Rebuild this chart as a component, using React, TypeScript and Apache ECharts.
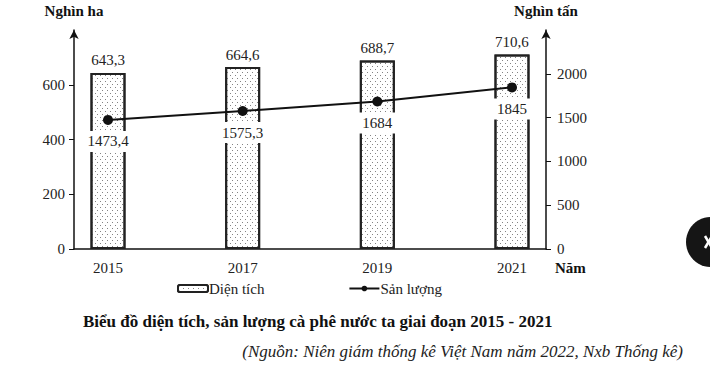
import React, { useEffect, useRef } from "react";
import * as echarts from "echarts";

const years = [2015, 2017, 2019, 2021];
const area = [643.3, 664.6, 688.7, 710.6];
const output = [1473.4, 1575.3, 1684, 1845];
const leftTicks = [0, 200, 400, 600];
const rightTicks = [0, 500, 1000, 1500, 2000];

const SERIF = "'Liberation Serif', 'Times New Roman', serif";
const fmt = (v: number) => String(v).replace(".", ",");

export default function App() {
  const ref = useRef<HTMLDivElement>(null);
  useEffect(() => {
    document.body.style.margin = "0";
    const chart = echarts.init(ref.current!, null, { renderer: "svg" });
    chart.setOption({
      animation: false,
      backgroundColor: "#fff",
      aria: { enabled: true, decal: { show: true } },
      textStyle: { fontFamily: SERIF },
      title: [
        {
          text: "Biểu đồ diện tích, sản lượng cà phê nước ta giai đoạn 2015 - 2021",
          left: 78,
          top: 308,
          textStyle: { fontFamily: SERIF, fontSize: 17, fontWeight: "bold", color: "#111" },
        },
        {
          text: "(Nguồn: Niên giám thống kê Việt Nam năm 2022, Nxb Thống kê)",
          right: 22,
          top: 338,
          textStyle: { fontFamily: SERIF, fontSize: 17, fontWeight: "normal", fontStyle: "italic", color: "#222" },
        },
      ],
      legend: {
        left: 177,
        top: 281,
        padding: 0,
        itemWidth: 30,
        itemHeight: 7,
        itemGap: 84,
        textStyle: { fontFamily: SERIF, fontSize: 15, color: "#222", padding: [0, 0, 0, -4] },
        data: ["Diện tích", "Sản lượng"],
      },
      grid: { left: 74, right: 164, top: 30, bottom: 117, containLabel: false, outerBoundsMode: "none" },
      xAxis: {
        type: "value",
        min: 2014.495,
        max: 2021.505,
        axisLine: { lineStyle: { color: "#111", width: 1.5 } },
        axisTick: { show: false },
        splitLine: { show: false },
        axisLabel: {
          customValues: years,
          margin: 11,
          fontSize: 15,
          color: "#222",
          fontFamily: SERIF,
          formatter: (v: number) => String(v),
        },
      },
      yAxis: [
        {
          type: "value",
          min: 0,
          max: 800,
          interval: 200,
          position: "left",
          name: "Nghìn ha",
          nameLocation: "end",
          nameGap: 12,
          nameTextStyle: { fontFamily: SERIF, fontSize: 15, fontWeight: "bold", color: "#111" },
          axisLine: { show: true, symbol: ["none", "arrow"], symbolSize: [7, 9], lineStyle: { color: "#111", width: 1.5 } },
          axisTick: { show: true, customValues: leftTicks, length: 5, lineStyle: { color: "#111" } },
          splitLine: { show: false },
          axisLabel: {
            customValues: leftTicks,
            margin: 9,
            fontSize: 15,
            color: "#222",
            fontFamily: SERIF,
            formatter: (v: number) => String(v),
          },
        },
        {
          type: "value",
          min: 0,
          max: 2500,
          interval: 500,
          position: "right",
          name: "Nghìn tấn",
          nameLocation: "end",
          nameGap: 12,
          nameTextStyle: { fontFamily: SERIF, fontSize: 15, fontWeight: "bold", color: "#111" },
          axisLine: { show: true, symbol: ["none", "arrow"], symbolSize: [7, 9], lineStyle: { color: "#111", width: 1.5 } },
          axisTick: { show: true, customValues: rightTicks, length: 5, lineStyle: { color: "#111" } },
          splitLine: { show: false },
          axisLabel: {
            customValues: rightTicks,
            margin: 11,
            fontSize: 15,
            color: "#222",
            fontFamily: SERIF,
            formatter: (v: number) => String(v),
          },
        },
      ],
      series: [
        {
          name: "Diện tích",
          type: "bar",
          barWidth: 35,
          data: years.map((y, i) => [y, area[i]]),
          itemStyle: {
            color: "#fff",
            borderColor: "#222",
            borderWidth: 2,
            decal: {
              symbol: "rect",
              symbolSize: 1,
              color: "rgba(90,90,90,0.75)",
              backgroundColor: "#fff",
              dashArrayX: [[1, 4], [0, 2, 1, 2]],
              dashArrayY: [1, 2],
              rotation: 0,
            },
          },
          label: {
            show: true,
            position: "top",
            distance: 5,
            fontSize: 15,
            color: "#222",
            fontFamily: SERIF,
            formatter: (p: any) => fmt(p.value[1]),
          },
          z: 1,
        },
        {
          name: "Sản lượng",
          type: "line",
          yAxisIndex: 1,
          data: years.map((y, i) => [y, output[i]]),
          symbol: "circle",
          symbolSize: 10,
          lineStyle: { color: "#111", width: 2 },
          itemStyle: { color: "#111" },
          label: {
            show: true,
            position: "bottom",
            distance: 6,
            fontSize: 15,
            color: "#222",
            fontFamily: SERIF,
            backgroundColor: "#fff",
            width: 42,
            align: "center",
            padding: [3, 0, 3, 0],
            formatter: (p: any) => fmt(p.value[1]),
          },
          z: 3,
        },
      ],
      graphic: [
        {
          type: "text",
          left: 555,
          top: 260,
          style: { text: "Năm", font: `bold 15px ${SERIF}`, fill: "#111" },
        },
        { type: "circle", shape: { cx: 711, cy: 242, r: 25 }, style: { fill: "#151515" } },
        { type: "line", shape: { x1: 705, y1: 236, x2: 712, y2: 248 }, style: { stroke: "#fff", lineWidth: 2.5 } },
        { type: "line", shape: { x1: 712, y1: 236, x2: 705, y2: 248 }, style: { stroke: "#fff", lineWidth: 2.5 } },
      ],
    });
    return () => chart.dispose();
  }, []);
  return <div ref={ref} style={{ width: 710, height: 366 }} />;
}
